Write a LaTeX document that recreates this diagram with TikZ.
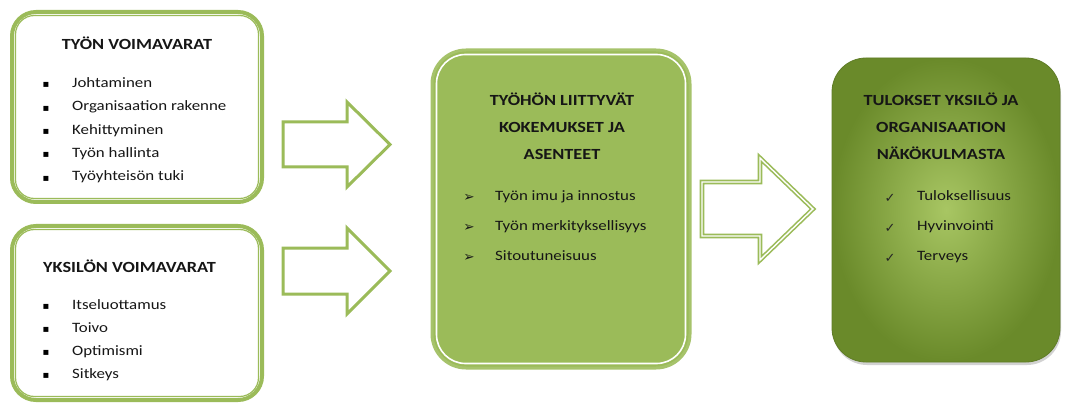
\documentclass[tikz,border=0pt]{standalone}
\usepackage{fontspec}
\setmainfont{Carlito}[FakeStretch=1.18]
\newfontfamily\symfont{DejaVu Sans}
\usetikzlibrary{shadows}
\definecolor{olive}{HTML}{9BBB59}
\definecolor{oliveedge}{HTML}{A6C36B}
\definecolor{olivedark}{HTML}{6A8A2A}
\definecolor{olivelight}{HTML}{A8C663}
\definecolor{txt}{HTML}{161616}

\begin{document}
\begin{tikzpicture}[x=1pt,y=-1pt,
  outlinebox/.style={draw=olive, line width=4pt, fill=white, rounded corners=24pt, inner sep=0pt},
  innerline/.style={draw=olive, line width=1.2pt, rounded corners=19pt},
  midbox/.style={draw=oliveedge, line width=3pt, fill=olive, rounded corners=34pt, inner sep=0pt},
  midinner/.style={draw=white, line width=1.6pt, rounded corners=29pt},
  resultbox/.style={draw=olivedark!90!black, line width=0.8pt, rounded corners=34pt, inner sep=0pt,
    inner color=olivelight, outer color=olivedark,
    drop shadow={opacity=0.35, shadow xshift=1pt, shadow yshift=-3pt}},
  flowarrow/.style={draw=olive, line width=3pt, fill=white, line join=miter},
  doublearrow/.style={draw=olive, line width=1.6pt, double=white, double distance=1.4pt, fill=white, line join=miter},
  boxtitle/.style={font=\bfseries\fontsize{15.5}{18}\selectfont, text=txt, inner sep=0pt, anchor=mid},
  listitem/.style={font=\fontsize{14.3}{17}\selectfont, text=txt, inner sep=0pt, anchor=mid west},
  sqmark/.style={font=\symfont\fontsize{10}{12}\selectfont, text=black, inner sep=0pt, anchor=center},
  arrowmark/.style={font=\symfont\fontsize{13.5}{14}\selectfont, text=black!90, inner sep=0pt, anchor=center},
  checkmark/.style={font=\symfont\fontsize{13}{14}\selectfont, text=black!85, inner sep=0pt, anchor=center}
]
\useasboundingbox[fill=white] (0,0) rectangle (1067,403);

% --- left column: work resources
\node[outlinebox, minimum width=250pt, minimum height=190pt] (work) at (137,107) {};
\draw[innerline] ([xshift=5.5pt,yshift=-5.5pt]work.north west) rectangle ([xshift=-5.5pt,yshift=5.5pt]work.south east);
\node[boxtitle] (worktitle) at (137,47) {TYÖN VOIMAVARAT};
\foreach \t [count=\i] in {Johtaminen, Organisaation rakenne, Kehittyminen, Työn hallinta, Työyhteisön tuki}{
  \node[sqmark] (wb\i) at (46,{62+23.3*\i}) {▪};
  \node[listitem] (wi\i) at (72,{62+23.3*\i}) {\t};
}

% --- left column: personal resources
\node[outlinebox, minimum width=250pt, minimum height=174pt] (pers) at (137,313) {};
\draw[innerline] ([xshift=5.5pt,yshift=-5.5pt]pers.north west) rectangle ([xshift=-5.5pt,yshift=5.5pt]pers.south east);
\node[boxtitle, anchor=mid west] (perstitle) at (43,270) {YKSILÖN VOIMAVARAT};
\foreach \t [count=\i] in {Itseluottamus, Toivo, Optimismi, Sitkeys}{
  \node[sqmark] (pb\i) at (46,{284+23*\i}) {▪};
  \node[listitem] (pi\i) at (72,{284+23*\i}) {\t};
}

% --- middle: experiences and attitudes
\node[midbox, minimum width=258pt, minimum height=318pt] (exp) at (561,209) {};
\draw[midinner] ([xshift=6pt,yshift=-6pt]exp.north west) rectangle ([xshift=-6pt,yshift=6pt]exp.south east);
\node[boxtitle] (et1) at (562,103) {TYÖHÖN LIITTYVÄT};
\node[boxtitle] (et2) at (562,130) {KOKEMUKSET JA};
\node[boxtitle] (et3) at (562,157) {ASENTEET};
\foreach \t [count=\i] in {Työn imu ja innostus, Työn merkityksellisyys, Sitoutuneisuus}{
  \node[arrowmark] (eb\i) at (469,{168+30*\i}) {➢};
  \node[listitem] (ei\i) at (495,{168+30*\i}) {\t};
}

% --- right: outcomes
\node[resultbox, minimum width=228pt, minimum height=304pt] (res) at (946,210) {};
\node[boxtitle] (rt1) at (941,103) {TULOKSET YKSILÖ JA};
\node[boxtitle] (rt2) at (941,130) {ORGANISAATION};
\node[boxtitle] (rt3) at (941,157) {NÄKÖKULMASTA};
\foreach \t [count=\i] in {Tuloksellisuus, Hyvinvointi, Terveys}{
  \node[checkmark] (rb\i) at (890,{168+30*\i}) {✓};
  \node[listitem] (ri\i) at (917,{168+30*\i}) {\t};
}

% --- block arrows between the columns
\draw[flowarrow] (283,122) -- (347,122) -- (347,102) -- (390,144.5) -- (347,187) -- (347,167) -- (283,167) -- cycle;
\draw[flowarrow] (283,248) -- (347,248) -- (347,228) -- (390,271) -- (347,314) -- (347,294) -- (283,294) -- cycle;
\draw[doublearrow] (702,182) -- (760,182) -- (760,158) -- (813,209) -- (760,260) -- (760,236) -- (702,236) -- cycle;
\end{tikzpicture}
\end{document}
